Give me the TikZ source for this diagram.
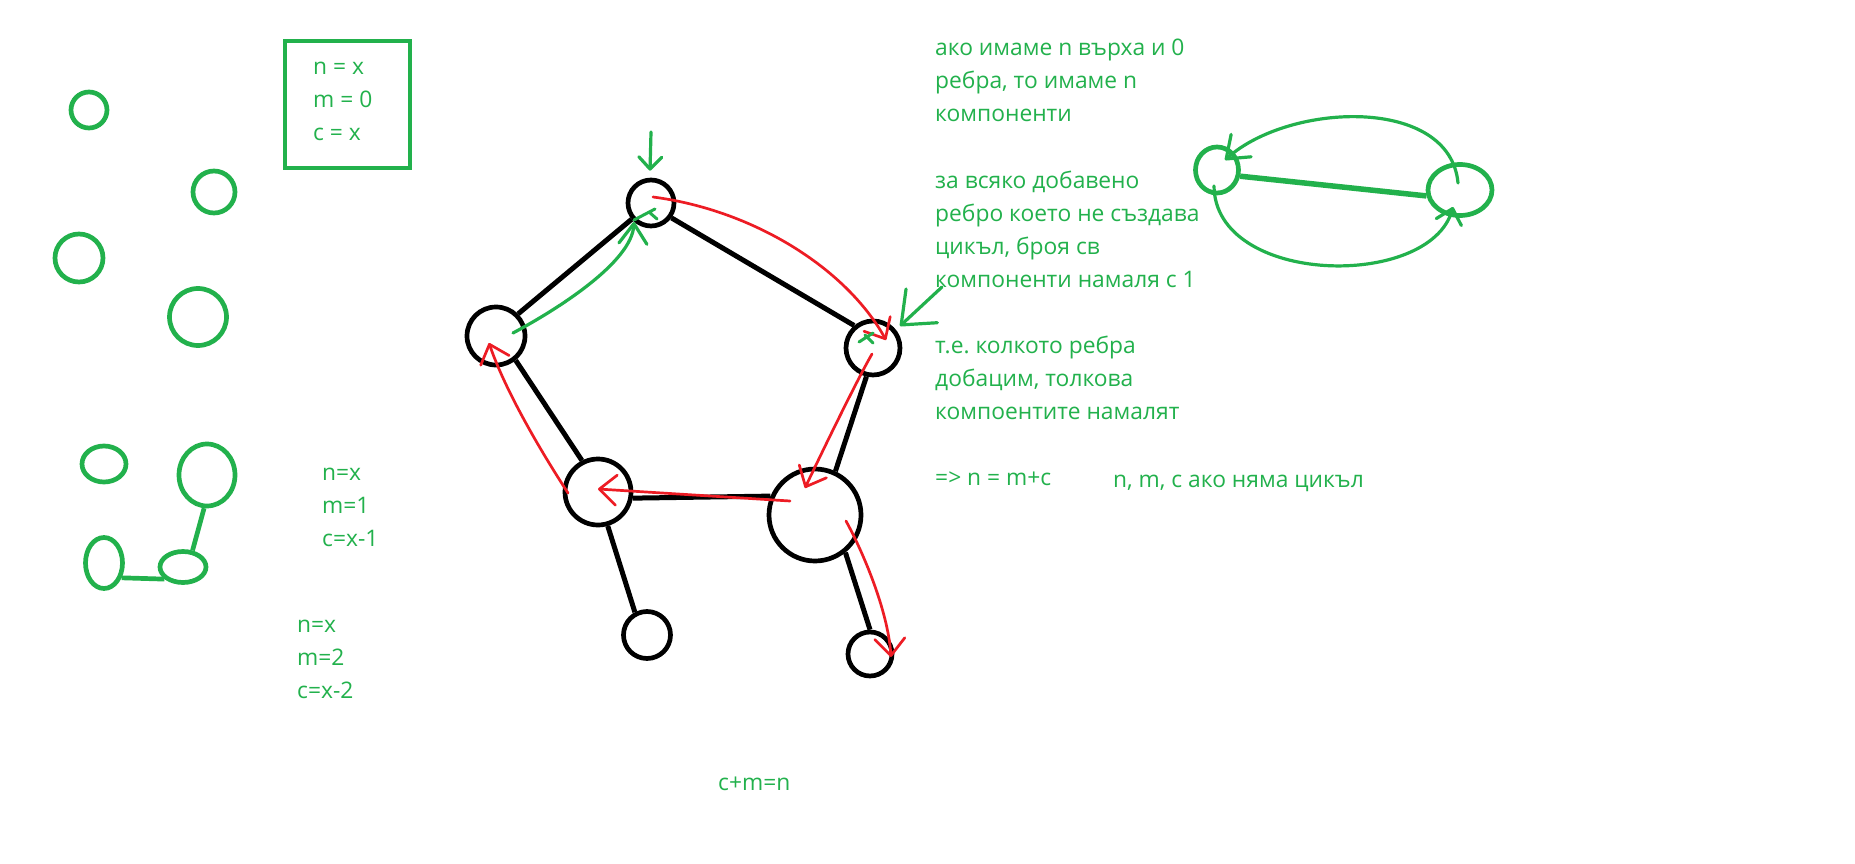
\documentclass[tikz,border=0pt]{standalone}
\usepackage{fontspec}
\setmainfont{Open Sans}
\usetikzlibrary{arrows.meta,shapes.geometric}
\definecolor{paintgreen}{RGB}{34,177,76}
\definecolor{paintred}{RGB}{237,28,36}
\frenchspacing

\tikzset{
  vtx/.style={circle, draw=black, line width=4.7pt, inner sep=0pt},
  dot/.style={circle, draw=paintgreen, line width=4.7pt, inner sep=0pt},
  blob/.style={ellipse, draw=paintgreen, line width=4.7pt, inner sep=0pt},
  note/.style={anchor=base west, inner sep=0pt, text=paintgreen, font=\fontsize{22.8}{27}\selectfont},
  edge/.style={draw=black, line width=5pt},
  twig/.style={draw=paintgreen, line width=4.7pt},
  walk/.style={draw=paintred, line width=2.7pt, line cap=round, -{Straight Barb[length=17pt, width=30pt, round]}},
  hint/.style 2 args={draw=paintgreen, line width=3.2pt, line cap=round, -{Straight Barb[length=#1, width=#2, round]}},
  scribble/.style={draw=paintgreen, line width=3pt, line cap=round},
}

\begin{document}
\begin{tikzpicture}[x=1pt, y=-1pt]
  \fill[white] (0,0) rectangle (1855,864);
  \useasboundingbox (0,0) rectangle (1855,864);

  % lone vertices, no edges
  \node[dot, minimum size=36pt] (g1) at (89,110) {};
  \node[dot, minimum size=42pt] (g2) at (214,192) {};
  \node[dot, minimum size=48pt] (g3) at (79,258) {};
  \node[dot, minimum size=57pt] (g4) at (198,317) {};
  \node[draw=paintgreen, line width=4pt, minimum width=125.6pt, minimum height=127pt, inner sep=0pt] (box) at (347.5,104.5) {};
  \foreach \txt [count=\i from 0] in {n = x, m = 0, c = x}
    \node[note] (box\i) at (313,{75+33*\i}) {\txt};

  % two edges added
  \node[blob, minimum width=44pt, minimum height=36pt] (e1) at (104,464) {};
  \node[blob, minimum width=56pt, minimum height=62pt] (e2) at (207,475) {};
  \node[blob, minimum width=37pt, minimum height=51pt] (e3) at (104,563) {};
  \node[blob, minimum width=46pt, minimum height=31pt] (e4) at (183,567) {};
  \draw[twig] (e2.265) -- (e4.60);
  \draw[twig] (e3.-40) -- (e4.213);
  \foreach \txt [count=\i from 0] in {n=x, m=1, c=x-1}
    \node[note] (one\i) at (322,{480+33*\i}) {\txt};
  \foreach \txt [count=\i from 0] in {n=x, m=2, c=x-2}
    \node[note] (two\i) at (297,{632+33*\i}) {\txt};

  % graph with a cycle
  \node[vtx, minimum size=46pt] (top) at (651,203) {};
  \node[vtx, minimum size=58pt] (lft) at (496,336) {};
  \node[vtx, minimum size=54pt] (rgt) at (873,348) {};
  \node[vtx, minimum size=66pt] (bl) at (598,492) {};
  \node[vtx, minimum size=92pt] (br) at (815,515) {};
  \node[vtx, minimum size=47pt] (leafa) at (647,635) {};
  \node[vtx, minimum size=44pt] (leafb) at (870,654) {};
  \draw[edge] (top.220) -- (lft.45);
  \draw[edge] (top.-36) -- (rgt.130);
  \draw[edge] (lft.309) -- (bl.117);
  \draw[edge] (rgt.257) -- (br.65);
  \draw[edge] (bl.350) -- (br.157);
  \draw[edge] (bl.286) -- (leafa.118);
  \draw[edge] (br.309) -- (leafb.90);

  % walk round the cycle
  \draw[walk] ([shift={(2,-6)}]top.center) .. controls (753,210) and (846,268) .. ([shift={(13,-8)}]rgt.center);
  \draw[walk] ([shift={(-1,6)}]rgt.center) .. controls (858,378) and (822,452) .. ([shift={(-10,-27)}]br.center);
  \draw[walk] ([shift={(-25,-14)}]br.center) -- ([shift={(0,-3)}]bl.center);
  \draw[walk] ([shift={(-30,1)}]bl.center) .. controls (540,450) and (505,390) .. ([shift={(-7,7)}]lft.center);
  \draw[walk] ([shift={(31,6)}]br.center) .. controls (862,550) and (888,610) .. ([shift={(21,3)}]leafb.center);

  % green marks on the cycle
  \coordinate (drop) at (651,132);
  \draw[hint={12pt}{23pt}] (drop) -- ([shift={(-1,-7)}]top.north);
  \draw[hint={20pt}{28pt}] ([shift={(17,-3)}]lft.center) .. controls (558,309) and (632,262) .. ([shift={(-17,19)}]top.center);
  \draw[scribble] ([shift={(-17,17)}]top.center) -- +(21,-11) ([shift={(-2,9)}]top.center) -- +(8,7);
  \draw[scribble] ([shift={(-14,-6)}]rgt.center) -- +(14,-9) ([shift={(-8,-13)}]rgt.center) -- +(8,8);
  \coordinate (nudge) at (942,287);
  \draw[hint={28pt}{46pt}] (nudge) -- ([shift={(27,-22)}]rgt.center);

  % notes
  \foreach \k/\txt in {0/ако имаме n върха и 0, 1/{ребра, то имаме n}, 2/компоненти,
      4/за всяко добавено, 5/ребро което не създава, 6/{цикъл, броя св}, 7/компоненти намаля с 1,
      9/т.е. колкото ребра, 10/{добацим, толкова}, 11/компоентите намалят, 13/=> n = m+c}
    \node[note] (rule\k) at (935,{56+33*\k}) {\txt};
  \node[note] (nocycle) at (1113,487) {n, m, c ако няма цикъл};
  \node[note] (sum) at (718,790) {c+m=n};

  % two vertices, one edge
  \node[blob, minimum width=43pt, minimum height=46pt] (p) at (1217,170) {};
  \node[blob, minimum width=64pt, minimum height=51pt] (q) at (1460,190) {};
  \draw[twig, line width=5.5pt] (p.345) -- (q.190);
  \draw[hint={20pt}{30pt}] ([shift={(-2,-7)}]q.center) .. controls (1450,96) and (1290,102) .. ([shift={(8,-10)}]p.center);
  \draw[hint={14pt}{26pt}] ([shift={(-3,16)}]p.center) .. controls (1215,286) and (1430,290) .. ([shift={(-7,17)}]q.center);
\end{tikzpicture}
\end{document}
